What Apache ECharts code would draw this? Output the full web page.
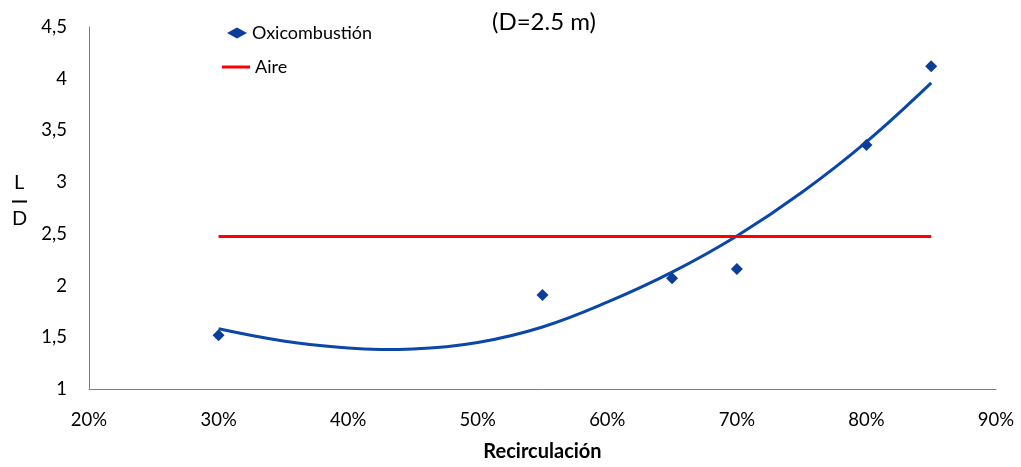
<!DOCTYPE html>
<html>
<head>
<meta charset="utf-8">
<script src="https://cdn.jsdelivr.net/npm/echarts@6/dist/echarts.min.js"></script>
<style>
html,body{margin:0;padding:0;background:#fff;overflow:hidden;}
#chart{width:1021px;height:467px;}
</style>
</head>
<body>
<div id="chart"></div>
<script>
// Data
const title = '(D=2.5 m)';
const xName = 'Recirculación';
const seriesOxiName = 'Oxicombustión';
const seriesAireName = 'Aire';
const oxiX = [30, 55, 65, 70, 80, 85];           // Recirculación (%)
const oxiY = [1.52, 1.91, 2.07, 2.16, 3.36, 4.12]; // L/D
const aireX = [30, 85];
const aireY = [2.475, 2.475];
const trendX = [30, 35, 40, 42.5, 45, 50, 55, 60, 65, 70, 75, 80, 85];
const trendY = [1.583, 1.465, 1.396, 1.382, 1.387, 1.45, 1.60, 1.84, 2.13, 2.48, 2.90, 3.39, 3.96];
const xTicks = { min: 20, max: 90, interval: 10 };
const yTicks = { min: 1, max: 4.5, interval: 0.5 };

const FONT = 'Lato, "Open Sans", sans-serif';
const chart = echarts.init(document.getElementById('chart'));
const zip = (a, b) => a.map((v, i) => [v, b[i]]);

chart.setOption({
  animation: false,
  backgroundColor: '#ffffff',
  title: {
    text: title, left: 544, top: 10, textAlign: 'center', padding: 0,
    textStyle: { fontFamily: FONT, fontSize: 24, fontWeight: 'normal', color: '#000' }
  },
  legend: [
    {
      data: [{ name: seriesOxiName, icon: 'diamond' }],
      left: 227, top: 24, padding: 0, itemWidth: 20, itemHeight: 11, symbolKeepAspect: true,
      itemStyle: { opacity: 1 },
      textStyle: { fontFamily: FONT, fontSize: 18, color: '#000' }
    },
    {
      data: [{ name: seriesAireName, icon: 'rect' }],
      left: 222, top: 58, padding: 0, itemWidth: 28, itemHeight: 3,
      textStyle: { fontFamily: FONT, fontSize: 18, color: '#000' }
    }
  ],
  grid: { left: 89, right: 25, top: 27, bottom: 74, containLabel: false },
  xAxis: {
    type: 'value', min: xTicks.min, max: xTicks.max, interval: xTicks.interval,
    name: xName, nameLocation: 'middle', nameGap: 53,
    nameTextStyle: { fontFamily: FONT, fontSize: 20, fontWeight: 'bold', color: '#000' },
    axisLine: { show: true, onZero: false, lineStyle: { color: '#7f7f7f', width: 1 } },
    axisTick: { show: false },
    splitLine: { show: false },
    axisLabel: { fontFamily: FONT, fontSize: 18.5, color: '#000', margin: 22, formatter: v => v + '%' }
  },
  yAxis: {
    type: 'value', min: yTicks.min, max: yTicks.max, interval: yTicks.interval,
    axisLine: { show: true, lineStyle: { color: '#7f7f7f', width: 1 } },
    axisTick: { show: false },
    splitLine: { show: false },
    axisLabel: { fontFamily: FONT, fontSize: 18.5, color: '#000', margin: 22,
      formatter: v => String(v).replace('.', ',') }
  },
  graphic: [
    { type: 'text', left: 14, top: 173, style: { text: 'L', font: '20px ' + FONT, fill: '#000' } },
    { type: 'line', shape: { x1: 12, y1: 201.5, x2: 27, y2: 201.5 }, style: { stroke: '#000', lineWidth: 2 } },
    { type: 'text', left: 12, top: 209, style: { text: 'D', font: '20px ' + FONT, fill: '#000' } }
  ],
  series: [
    {
      name: 'trend', type: 'line', data: zip(trendX, trendY), smooth: 0.4,
      showSymbol: false, symbol: 'none', z: 2,
      lineStyle: { color: '#0a47a8', width: 3 }
    },
    {
      name: seriesAireName, type: 'line', data: zip(aireX, aireY),
      showSymbol: false, symbol: 'none', z: 3,
      itemStyle: { color: '#ff0000' },
      lineStyle: { color: '#ff0000', width: 3 }
    },
    {
      name: seriesOxiName, type: 'scatter', data: zip(oxiX, oxiY),
      symbol: 'diamond', symbolSize: [12, 12], z: 4,
      itemStyle: { color: '#0b3d9a', opacity: 1 }
    }
  ]
});
</script>
</body>
</html>
